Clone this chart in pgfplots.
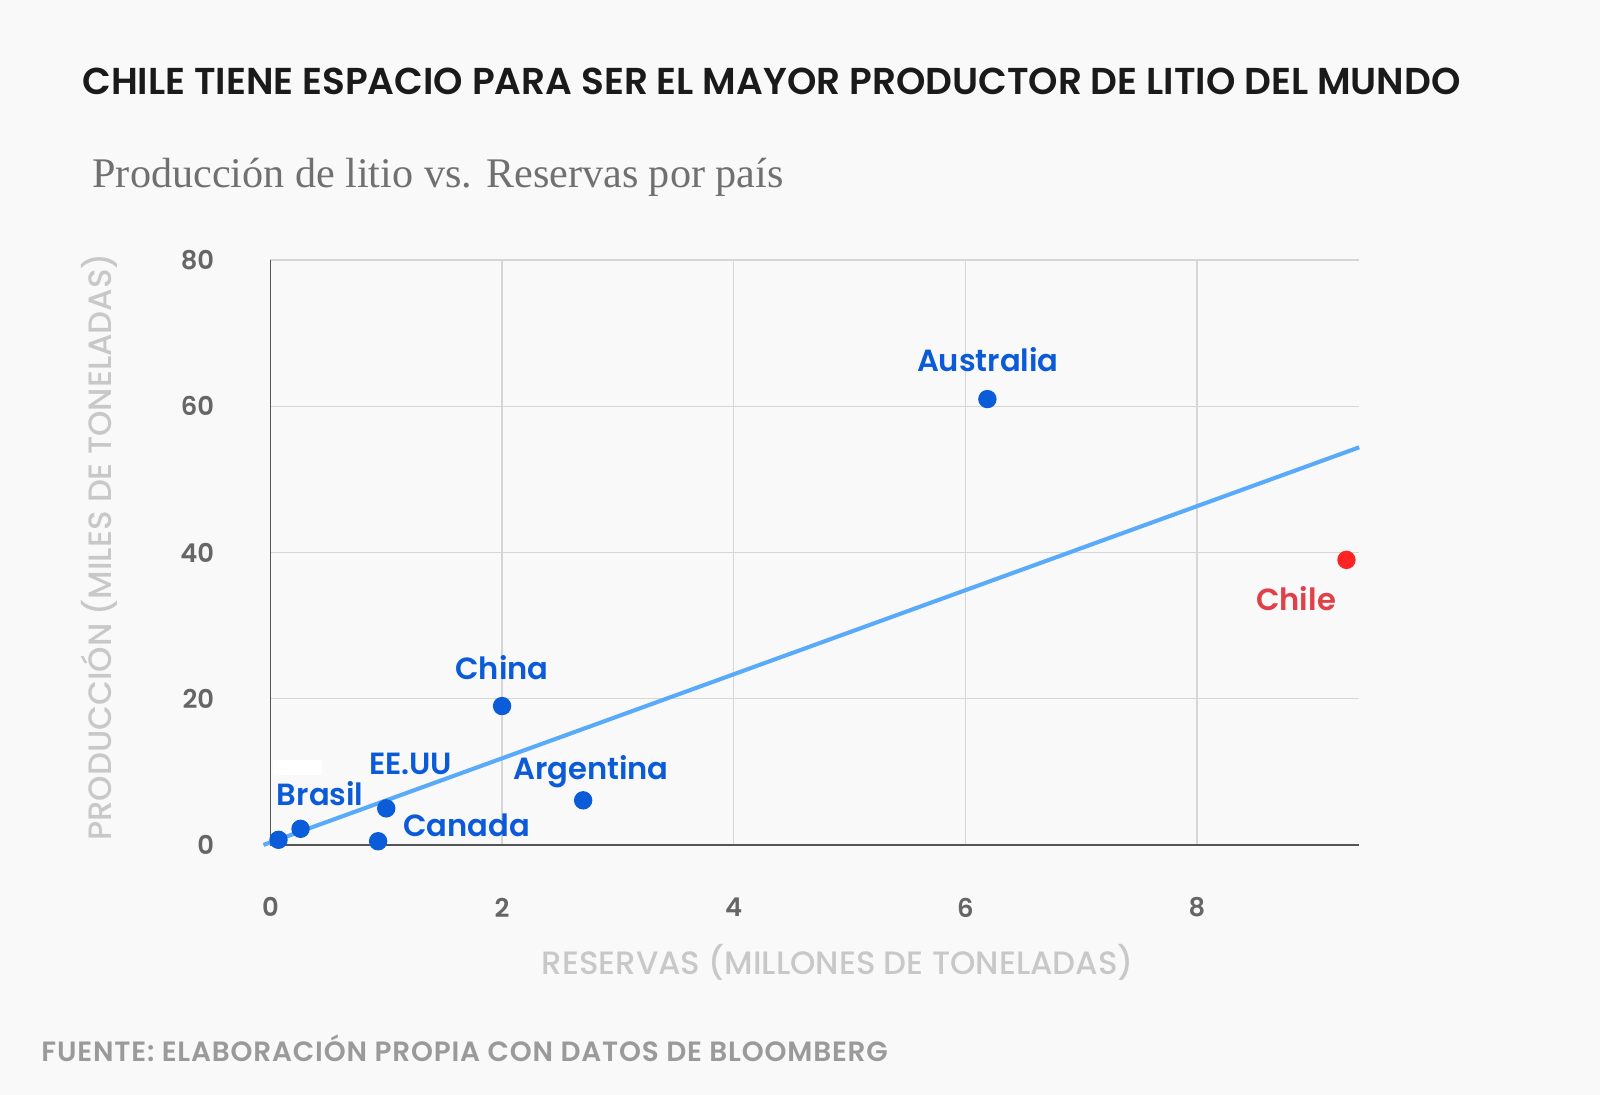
\documentclass[border=0pt]{standalone}
\usepackage{pgfplots}
\pgfplotsset{compat=1.18}
\usepackage{fontspec}
\setmainfont{Poppins}
\newfontfamily\pmed{Poppins Medium}
\newfontfamily\psemi{Poppins SemiBold}
\newfontfamily\psemisp{Poppins SemiBold}[LetterSpace=3]
\newfontfamily\serif{Liberation Serif}

\definecolor{bg}{HTML}{F9F9F9}
\definecolor{titlec}{HTML}{1A1A1A}
\definecolor{subc}{HTML}{707070}
\definecolor{tickc}{HTML}{666666}
\definecolor{labc}{HTML}{C8C8C8}
\definecolor{footc}{HTML}{9A9A9A}
\definecolor{gridc}{HTML}{D6D6D6}
\definecolor{axc}{HTML}{555555}
\definecolor{dotblue}{HTML}{0A5CD8}
\definecolor{dotred}{HTML}{FF2424}
\definecolor{lblblue}{HTML}{0B5BD8}
\definecolor{lblred}{HTML}{E0404A}
\definecolor{trendc}{HTML}{5AAAFA}

\tikzset{lbl/.style={font=\psemi\fontsize{9}{11}\selectfont, inner sep=0pt}}

\begin{document}
\begin{tikzpicture}
\useasboundingbox (0,0) rectangle (470.4pt,321.9pt);
\fill[bg] (0,0) rectangle (470.4pt,321.9pt);

\begin{axis}[
    at={(79.5pt,73.5pt)}, anchor=south west,
    scale only axis,
    width=320.1pt, height=171.9pt,
    xmin=0, xmax=9.4,
    ymin=0, ymax=80,
    xtick={0,2,4,6,8},
    ytick={0,20,40,60,80},
    grid=major,
    major grid style={color=gridc, line width=0.45pt},
    axis x line*=bottom,
    axis y line*=left,
    axis line style={-, color=axc, line width=0.5pt},
    tick style={draw=none},
    clip=false,
    /pgf/number format/assume math mode=true,
    ticklabel style={font=\psemi\fontsize{7.6}{9}\selectfont, text=tickc},
    xticklabel shift=12pt,
    yticklabel shift=13pt,
  ]
% trend line
\addplot[color=trendc, line width=1.2pt] coordinates {(-0.06,0) (9.4,54.4)};
% countries
\addplot[only marks, mark=*, mark size=2.5pt, color=dotblue] coordinates {
  (0.07,0.7) (0.26,2.2) (0.93,0.5) (1.0,5.0) (2.0,19.0) (2.7,6.1) (6.19,61.0)};
% Chile
\addplot[only marks, mark=*, mark size=2.5pt, color=dotred] coordinates {(9.29,39.0)};

\node[fill=white, minimum width=14.4pt, minimum height=4.4pt, inner sep=0pt] at (axis cs:0.233,10.6) {};
\node[lbl, text=lblblue] at (axis cs:6.194,66.45) {Australia};
\node[lbl, text=lblred]  at (axis cs:8.855,33.65) {Chile};
\node[lbl, text=lblblue] at (axis cs:2.0,24.3) {China};
\node[lbl, text=lblblue] at (axis cs:2.767,10.05) {Argentina};
\node[lbl, text=lblblue] at (axis cs:1.211,11.03) {EE.UU};
\node[lbl, text=lblblue] at (axis cs:0.430,7.0) {Brasil};
\node[lbl, text=lblblue] at (axis cs:1.692,2.65) {Canada};
\end{axis}

\begin{scope}[x=0.3pt, y=-0.3pt, yshift=321.9pt]
\node[anchor=base west, inner sep=0pt, font=\psemi\fontsize{11.0}{13}\selectfont, text=titlec]
  at (80,93) {CHILE TIENE ESPACIO PARA SER EL MAYOR PRODUCTOR DE LITIO DEL MUNDO};
\node[anchor=base west, inner sep=0pt, font=\serif\fontsize{12.4}{14}\selectfont, text=subc]
  at (90,184) {Producción de litio vs. Reservas por país};
\node[rotate=90, inner sep=0pt, font=\pmed\fontsize{9.5}{11}\selectfont, text=labc]
  at (97,536) {PRODUCCIÓN (MILES DE TONELADAS)};
\node[inner sep=0pt, font=\pmed\fontsize{9.5}{11}\selectfont, text=labc]
  at (821,943) {RESERVAS (MILLONES DE TONELADAS)};
\node[anchor=west, inner sep=0pt, font=\psemisp\fontsize{8.2}{10}\selectfont, text=footc]
  at (40,1027) {FUENTE: ELABORACIÓN PROPIA CON DATOS DE BLOOMBERG};
\end{scope}
\end{tikzpicture}
\end{document}
